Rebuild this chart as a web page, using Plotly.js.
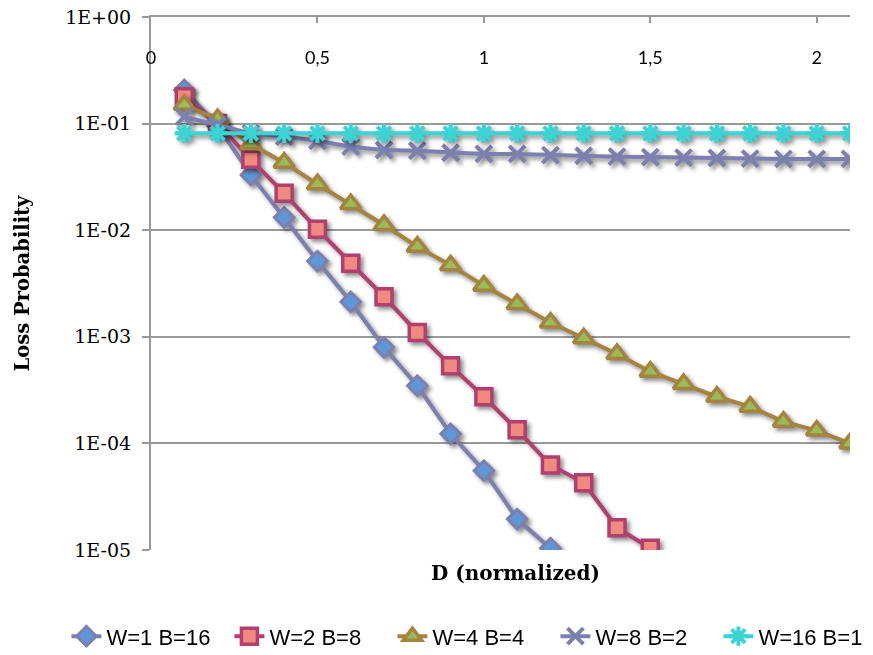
<!DOCTYPE html>
<html>
<head>
<meta charset="utf-8">
<script src="https://cdn.plot.ly/plotly-3.0.1.min.js"></script>
<style>
html,body{margin:0;padding:0;background:#fff;}
#chart{width:873px;height:655px;}
.scatterlayer .trace{filter:drop-shadow(3px 3px 2px rgba(0,0,0,0.45));}
</style>
</head>
<body>
<div id="chart"></div>
<script>
// Data
const seriesNames = ["W=1 B=16", "W=2 B=8", "W=4 B=4", "W=8 B=2", "W=16 B=1"];

const xW1 = [0.1,0.2,0.3,0.4,0.5,0.6,0.7,0.8,0.9,1.0,1.1,1.2];
const yW1 = [0.207,0.095,0.033,0.0132,0.00514,0.00213,0.000797,0.000348,0.000123,0.0000555,0.0000195,0.0000104];

const xW2 = [0.1,0.2,0.3,0.4,0.5,0.6,0.7,0.8,0.9,1.0,1.1,1.2,1.3,1.4,1.5];
const yW2 = [0.179,0.1,0.0462,0.0222,0.0102,0.00489,0.00238,0.0011,0.000536,0.000274,0.000134,0.0000627,0.0000428,0.0000162,0.0000104];

const xW4 = [0.1,0.2,0.3,0.4,0.5,0.6,0.7,0.8,0.9,1.0,1.1,1.2,1.3,1.4,1.5,1.6,1.7,1.8,1.9,2.0,2.1];
const yW4 = [0.15,0.11,0.064,0.043,0.027,0.0176,0.0112,0.00701,0.00468,0.00302,0.00203,0.00136,0.000969,0.00069,0.000471,0.000361,0.000274,0.000221,0.00016,0.000132,0.0001];

const xW8 = [0.1,0.2,0.3,0.4,0.5,0.6,0.7,0.8,0.9,1.0,1.1,1.2,1.3,1.4,1.5,1.6,1.7,1.8,1.9,2.0,2.1];
const yW8 = [0.116,0.097,0.081,0.0755,0.069,0.0607,0.0565,0.0557,0.0533,0.0519,0.0519,0.0507,0.0499,0.049,0.0485,0.0479,0.0476,0.0469,0.0466,0.0466,0.0466];

const xW16 = [0.1,0.2,0.3,0.4,0.5,0.6,0.7,0.8,0.9,1.0,1.1,1.2,1.3,1.4,1.5,1.6,1.7,1.8,1.9,2.0,2.1];
const yW16 = [0.081,0.081,0.081,0.081,0.081,0.081,0.081,0.081,0.081,0.081,0.081,0.081,0.081,0.081,0.081,0.081,0.081,0.081,0.081,0.081,0.081];

const yTickVals = [1e-5,1e-4,1e-3,1e-2,1e-1,1];
const yTickText = ["1E-05","1E-04","1E-03","1E-02","1E-01","1E+00"];
const xTickVals = [0,0.5,1,1.5,2];
const xTickText = ["0","0,5","1","1,5","2"];

const xTitle = "D (normalized)";
const yTitle = "Loss Probability";

const traces = [
  {x:xW1, y:yW1, name:seriesNames[0], mode:"lines+markers",
   line:{color:"#7D7FAF", width:4},
   marker:{symbol:"diamond", size:15, color:"#5E97D8", line:{color:"#7D7FAF", width:3}}},
  {x:xW2, y:yW2, name:seriesNames[1], mode:"lines+markers",
   line:{color:"#B0416F", width:4},
   marker:{symbol:"square", size:16, color:"#F08A80", line:{color:"#B0416F", width:3.5}}},
  {x:xW4, y:yW4, name:seriesNames[2], mode:"lines+markers",
   line:{color:"#A5843F", width:4},
   marker:{symbol:"triangle-up", size:18, color:"#9BBB59", line:{color:"#A5843F", width:3.5}}},
  {x:xW8, y:yW8, name:seriesNames[3], mode:"lines+markers",
   line:{color:"#7D7FAF", width:4},
   marker:{symbol:"x-thin-open", size:16, color:"#7D7FAF", line:{color:"#7D7FAF", width:4}}},
  {x:xW16, y:yW16, name:seriesNames[4], mode:"lines+markers",
   line:{color:"#3BD3D3", width:4},
   marker:{symbol:"asterisk-open", size:16, color:"#3BD3D3", line:{color:"#3BD3D3", width:4}}}
];

// invisible helper trace for the secondary x axis carrying the tick labels inside the plot
traces.push({x:[0], y:[1], xaxis:"x2", yaxis:"y", mode:"markers", marker:{opacity:0}, showlegend:false, hoverinfo:"skip"});

const layout = {
  width:873, height:655,
  margin:{l:151, r:23, t:17, b:105, autoexpand:false},
  paper_bgcolor:"#fff", plot_bgcolor:"#fff",
  showlegend:true,
  xaxis:{
    range:[0,2.1], side:"top", showgrid:false, zeroline:false,
    showline:true, linecolor:"#999", linewidth:2,
    ticks:"inside", ticklen:6, tickwidth:2, tickcolor:"#999",
    tickvals:xTickVals, showticklabels:false
  },
  xaxis2:{
    matches:"x", overlaying:"x", anchor:"free", position:0.947, side:"bottom",
    showgrid:false, zeroline:false, showline:false, ticks:"",
    tickvals:xTickVals, ticktext:xTickText,
    tickfont:{family:"Lato, 'Liberation Sans', sans-serif", size:18, color:"#000"}
  },
  yaxis:{
    type:"log", range:[-5,0],
    tickvals:yTickVals, ticktext:yTickText,
    showgrid:true, gridcolor:"#999", gridwidth:2,
    zeroline:false, showline:true, linecolor:"#999", linewidth:2,
    ticks:"outside", ticklen:7, tickwidth:2, tickcolor:"#999",
    ticklabelstandoff:7,
    tickfont:{family:"'DejaVu Serif', serif", size:19, color:"#000"},
    title:{text:"<b>"+yTitle+"</b>", standoff:30,
      font:{family:"'DejaVu Serif', serif", size:19.5, color:"#000"}}
  },
  legend:{
    orientation:"h", x:-0.121, xanchor:"left", y:-0.162, yanchor:"middle",
    font:{family:"'Liberation Sans', Arial, sans-serif", size:22, color:"#000"},
    entrywidth:118, entrywidthmode:"pixels",
    itemwidth:30, tracegroupgap:0, traceorder:"normal", bgcolor:"rgba(0,0,0,0)"
  },
  annotations:[
    {text:"<b>"+xTitle+"</b>", xref:"paper", yref:"paper", x:0.521, y:-0.043,
     xanchor:"center", yanchor:"middle", showarrow:false,
     font:{family:"'DejaVu Serif', serif", size:20, color:"#000"}}
  ]
};

Plotly.newPlot("chart", traces, layout, {displayModeBar:false, staticPlot:true});
</script>
</body>
</html>
